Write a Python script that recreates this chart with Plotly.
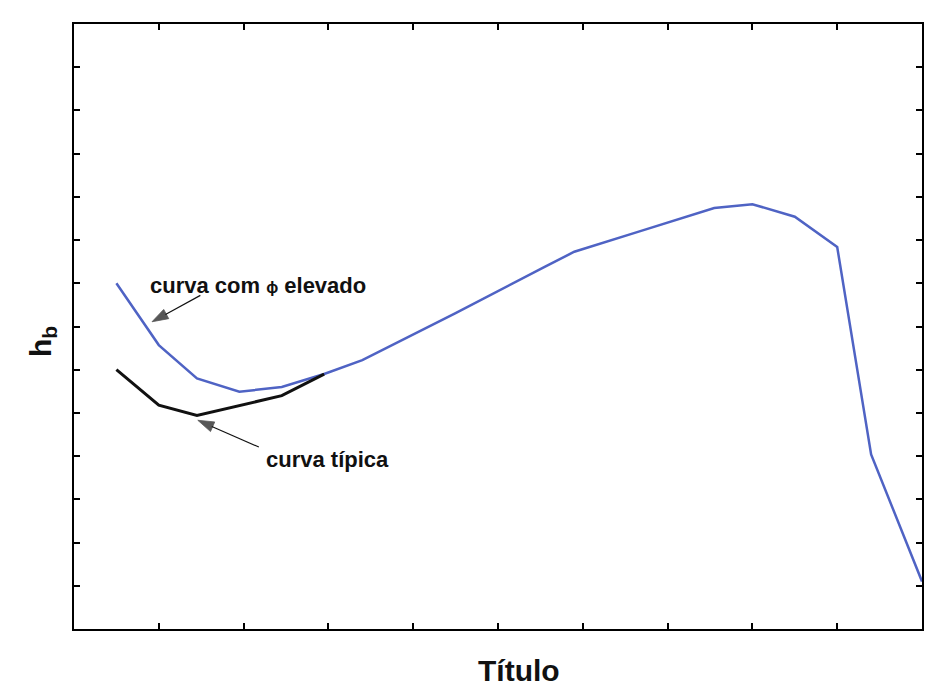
import plotly.graph_objects as go

# h_b curves along the "Título" axis
x_elevado = [0.5, 1.0, 1.45, 1.95, 2.45, 2.95, 3.4, 4.5, 5.55, 5.9, 6.65, 7.55, 8.0, 8.5, 9.0, 9.4, 10.0]
hb_elevado = [8.0, 6.57, 5.8, 5.49, 5.6, 5.9, 6.22, 7.31, 8.38, 8.73, 9.19, 9.74, 9.83, 9.54, 8.84, 4.04, 1.1]

x_tipica = [0.5, 1.0, 1.45, 1.95, 2.45, 2.95]
hb_tipica = [6.0, 5.18, 4.94, 5.17, 5.4, 5.9]

x_ticks = [1, 2, 3, 4, 5, 6, 7, 8, 9]
y_ticks = [1, 2, 3, 4, 5, 6, 7, 8, 9, 10, 11, 12, 13]

# pointer arrows: (tail, head) in data units
arrow_elevado_x = [1.49, 0.92]
arrow_elevado_y = [7.72, 7.11]
arrow_tipica_x = [2.18, 1.46]
arrow_tipica_y = [4.21, 4.83]

FONT = "Liberation Sans, Arial, sans-serif"
BLUE = "#4f63c4"
INK = "#111111"

fig = go.Figure()
fig.add_trace(go.Scatter(x=x_elevado, y=hb_elevado, mode="lines",
                         line=dict(color=BLUE, width=2.5), showlegend=False))
fig.add_trace(go.Scatter(x=x_tipica, y=hb_tipica, mode="lines",
                         line=dict(color=INK, width=3), showlegend=False))

for ax_, ay_ in [(arrow_elevado_x, arrow_elevado_y), (arrow_tipica_x, arrow_tipica_y)]:
    fig.add_trace(go.Scatter(
        x=ax_, y=ay_, mode="lines+markers", showlegend=False, hoverinfo="skip",
        line=dict(color=INK, width=1.2),
        marker=dict(symbol=["circle", "arrow"], size=[0, 17], angleref="previous",
                    color=INK, line=dict(width=0.8, color=INK)),
    ))

axis_common = dict(showline=True, linecolor="black", linewidth=2, mirror="allticks",
                   ticks="inside", ticklen=6, tickwidth=2, tickcolor="black",
                   showticklabels=False, showgrid=False, zeroline=False, fixedrange=True)

fig.update_xaxes(range=[0, 10], tickvals=x_ticks, **axis_common)
fig.update_yaxes(range=[0, 14], tickvals=y_ticks, **axis_common)

label_font = dict(family=FONT, size=22, color=INK, weight="bold")
title_font = dict(family=FONT, size=30, color=INK, weight="bold")

# curve labels
fig.add_annotation(x=2.17, y=7.96, xref="x", yref="y", showarrow=False,
                   text="curva com <span style='font-size:16px'>\u03d5</span> elevado",
                   font=label_font)
fig.add_annotation(x=2.99, y=3.92, xref="x", yref="y", showarrow=False,
                   text="curva típica", font=label_font)

# axis titles
fig.add_annotation(x=(520 - 74) / 850, y=0, xref="paper", yref="paper", showarrow=False,
                   yshift=-41, yanchor="middle", text="Título", font=title_font)
fig.add_annotation(x=0, y=0.5, xref="paper", yref="paper", showarrow=False,
                   text="h<sub>b</sub>", textangle=-90, xshift=-52, yshift=-15,
                   font=title_font)

fig.update_layout(width=926, height=686, margin=dict(l=74, r=2, t=24, b=57),
                  paper_bgcolor="white", plot_bgcolor="white")

fig.write_html("out.html")
